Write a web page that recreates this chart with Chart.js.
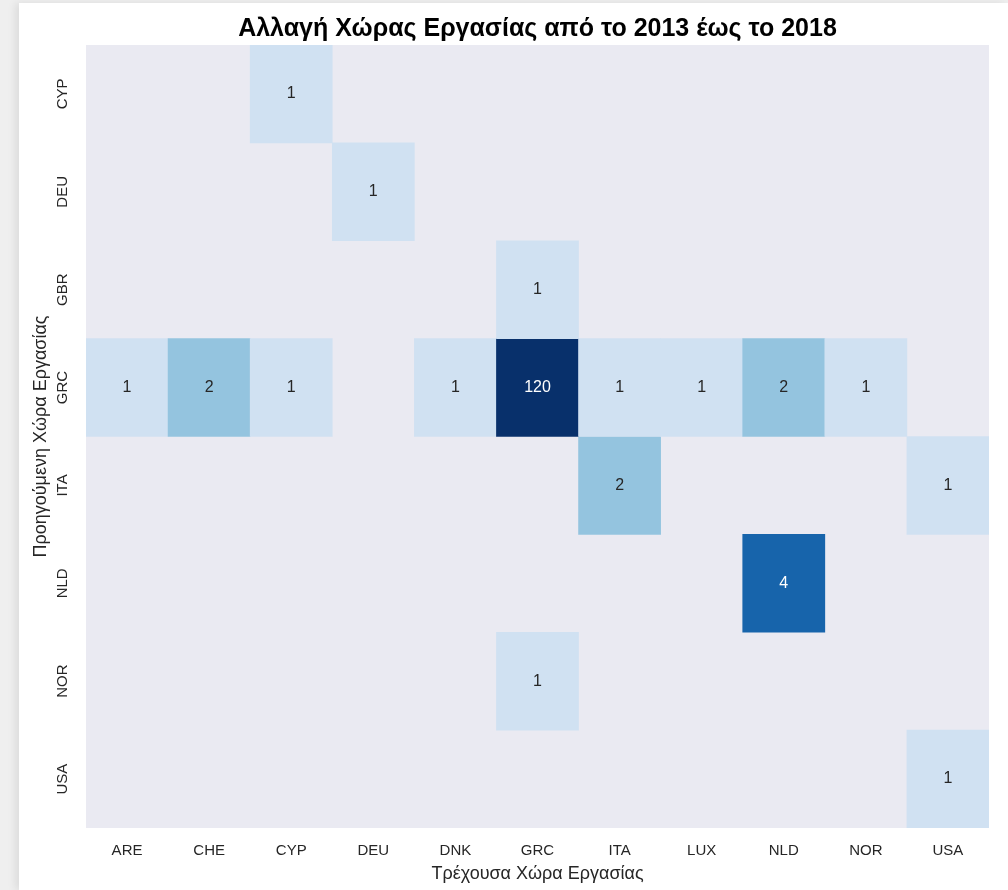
<!DOCTYPE html>
<html>
<head>
<meta charset="utf-8">
<script src="https://cdn.jsdelivr.net/npm/chart.js@4"></script>
<style>
  html, body { margin: 0; padding: 0; background: #efefef; }
  #card {
    position: absolute; left: 19px; top: 3px; width: 989px; height: 887px;
    background: #fff; box-shadow: -4px 0 8px rgba(0,0,0,0.08);
  }
  canvas { display: block; }
</style>
</head>
<body>
<div id="card"><canvas id="heat" width="989" height="887"></canvas></div>
<script>
// Columns: current country, rows: previous country
const currentCountries = ["ARE", "CHE", "CYP", "DEU", "DNK", "GRC", "ITA", "LUX", "NLD", "NOR", "USA"];
const previousCountries = ["CYP", "DEU", "GBR", "GRC", "ITA", "NLD", "NOR", "USA"];

const fromCYP = [null, null, 1, null, null, null, null, null, null, null, null];
const fromDEU = [null, null, null, 1, null, null, null, null, null, null, null];
const fromGBR = [null, null, null, null, null, 1, null, null, null, null, null];
const fromGRC = [1, 2, 1, null, 1, 120, 1, 1, 2, 1, null];
const fromITA = [null, null, null, null, null, null, 2, null, null, null, 1];
const fromNLD = [null, null, null, null, null, null, null, null, 4, null, null];
const fromNOR = [null, null, null, null, null, 1, null, null, null, null, null];
const fromUSA = [null, null, null, null, null, null, null, null, null, null, 1];

const counts = [fromCYP, fromDEU, fromGBR, fromGRC, fromITA, fromNLD, fromNOR, fromUSA];

// Blues-like colours per count
function cellColor(v) {
  if (v >= 100) return "#08306b";
  if (v >= 4) return "#1764ab";
  if (v >= 2) return "#94c4df";
  return "#d0e1f2";
}
function textColor(v) {
  return v >= 4 ? "#ffffff" : "#262626";
}

const FONT = "'Liberation Sans', Arial, sans-serif";
const ink = "#262626";

const datasets = counts.map((row, i) => ({
  label: previousCountries[i],
  data: row.map(v => (v == null ? null : [i, i + 1])),
  counts: row,
  backgroundColor: row.map(v => (v == null ? "rgba(0,0,0,0)" : cellColor(v))),
  borderWidth: 0,
  barPercentage: 1,
  categoryPercentage: 1,
  grouped: false,
}));

const heatPlugin = {
  id: "heatPlugin",
  beforeDraw(chart) {
    const { ctx, chartArea: a } = chart;
    ctx.save();
    ctx.fillStyle = "#eaeaf2";
    ctx.fillRect(a.left, a.top, a.right - a.left, a.bottom - a.top);
    ctx.restore();
  },
  afterDraw(chart) {
    const { ctx, chartArea: a } = chart;
    const y = chart.scales.y;
    ctx.save();
    // cell values
    ctx.font = "16px " + FONT;
    ctx.textAlign = "center";
    ctx.textBaseline = "middle";
    chart.data.datasets.forEach((ds, i) => {
      const meta = chart.getDatasetMeta(i);
      ds.counts.forEach((v, j) => {
        if (v == null) return;
        const el = meta.data[j];
        ctx.fillStyle = textColor(v);
        ctx.fillText(String(v), el.x, (el.y + el.base) / 2);
      });
    });
    // row labels, rotated
    ctx.font = "15px " + FONT;
    ctx.fillStyle = ink;
    previousCountries.forEach((name, i) => {
      const cy = y.getPixelForValue(i + 0.5);
      ctx.save();
      ctx.translate(a.left - 23, cy);
      ctx.rotate(-Math.PI / 2);
      ctx.fillText(name, 0, 0);
      ctx.restore();
    });
    // axis titles
    ctx.font = "18px " + FONT;
    ctx.fillText("Τρέχουσα Χώρα Εργασίας", (a.left + a.right) / 2, a.bottom + 46);
    ctx.save();
    ctx.translate(a.left - 45, (a.top + a.bottom) / 2);
    ctx.rotate(-Math.PI / 2);
    ctx.fillText("Προηγούμενη Χώρα Εργασίας", 0, 0);
    ctx.restore();
    ctx.restore();
  },
};

new Chart(document.getElementById("heat"), {
  type: "bar",
  data: { labels: currentCountries, datasets },
  options: {
    responsive: false,
    animation: false,
    layout: { padding: { left: 67, right: 19, top: 0, bottom: 16 } },
    plugins: {
      legend: { display: false },
      tooltip: { enabled: false },
      title: {
        display: true,
        text: "Αλλαγή Χώρας Εργασίας από το 2013 έως το 2018",
        color: "#000",
        font: { family: FONT, size: 25, weight: "bold" },
        padding: { top: 11, bottom: 1 },
      },
    },
    scales: {
      x: {
        grid: { display: false, drawTicks: false },
        border: { display: false },
        ticks: { color: ink, font: { family: FONT, size: 15 }, padding: 14 },
      },
      y: {
        display: false,
        reverse: true,
        min: 0,
        max: previousCountries.length,
      },
    },
  },
  plugins: [heatPlugin],
});
</script>
</body>
</html>
